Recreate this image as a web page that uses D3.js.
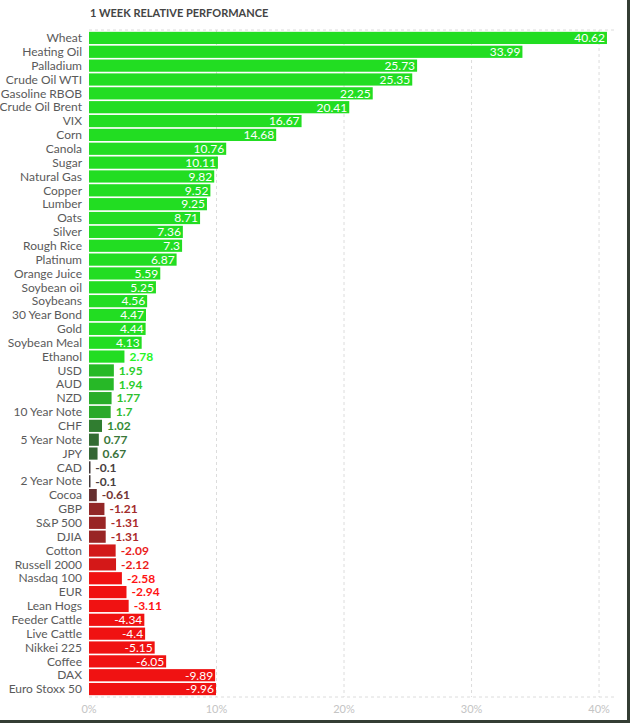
<!DOCTYPE html>
<html>
<head>
<meta charset="utf-8">
<script src="https://cdn.jsdelivr.net/npm/d3@7"></script>
<style>
  body { margin: 0; background: #fff; }
  svg { display: block; font-family: Lato, "Open Sans", sans-serif; }
</style>
</head>
<body>
<div id="chart"></div>
<script>
var names = ["Wheat", "Heating Oil", "Palladium", "Crude Oil WTI", "Gasoline RBOB", "Crude Oil Brent",
  "VIX", "Corn", "Canola", "Sugar", "Natural Gas", "Copper", "Lumber", "Oats", "Silver", "Rough Rice",
  "Platinum", "Orange Juice", "Soybean oil", "Soybeans", "30 Year Bond", "Gold", "Soybean Meal", "Ethanol",
  "USD", "AUD", "NZD", "10 Year Note", "CHF", "5 Year Note", "JPY", "CAD", "2 Year Note", "Cocoa",
  "GBP", "S&P 500", "DJIA", "Cotton", "Russell 2000", "Nasdaq 100", "EUR", "Lean Hogs", "Feeder Cattle",
  "Live Cattle", "Nikkei 225", "Coffee", "DAX", "Euro Stoxx 50"];

var values = [40.62, 33.99, 25.73, 25.35, 22.25, 20.41,
  16.67, 14.68, 10.76, 10.11, 9.82, 9.52, 9.25, 8.71, 7.36, 7.3,
  6.87, 5.59, 5.25, 4.56, 4.47, 4.44, 4.13, 2.78,
  1.95, 1.94, 1.77, 1.7, 1.02, 0.77, 0.67, -0.1, -0.1, -0.61,
  -1.21, -1.31, -1.31, -2.09, -2.12, -2.58, -2.94, -3.11, -4.34,
  -4.4, -5.15, -6.05, -9.89, -9.96];

var xTicks = [0, 10, 20, 30, 40];

var data = names.map(function(n, i) { return {name: n, value: values[i]}; });

var width = 630, height = 723;

var x = d3.scaleLinear().domain([0, 41.25]).range([89, 615]);
var y = d3.scaleBand().domain(names).range([31, 696]).paddingInner(0.12).paddingOuter(0.06);

var color = d3.scaleLinear()
    .domain([-2.5, 0, 2.5])
    .range(["#f01212", "#3a3a3a", "#22dd22"])
    .clamp(true);

var svg = d3.select("#chart").append("svg")
    .attr("width", width)
    .attr("height", height);

svg.append("text")
    .attr("x", 90)
    .attr("y", 17)
    .style("font-size", "11px")
    .style("font-weight", "bold")
    .style("fill", "#444")
    .text("1 WEEK RELATIVE PERFORMANCE");

// grid
var grid = svg.append("g").style("stroke", "#dcdcdc").style("stroke-dasharray", "3,3");
grid.selectAll(".vgrid")
    .data(xTicks.slice(1))
  .enter().append("line")
    .attr("x1", d => x(d)).attr("x2", d => x(d))
    .attr("y1", 30).attr("y2", 697);
grid.selectAll(".hgrid")
    .data([30, 697])
  .enter().append("line")
    .attr("x1", x(0)).attr("x2", x(41.25))
    .attr("y1", d => d).attr("y2", d => d);

// x axis labels
svg.selectAll(".xlab")
    .data(xTicks)
  .enter().append("text")
    .attr("x", d => x(d))
    .attr("y", 713)
    .attr("text-anchor", "middle")
    .style("font-size", "11px")
    .style("fill", "#c4c4c4")
    .text(d => d + "%");

// category labels
svg.selectAll(".cat")
    .data(data)
  .enter().append("text")
    .attr("x", 82)
    .attr("y", d => y(d.name) + y.bandwidth() / 2)
    .attr("dy", "0.35em")
    .attr("text-anchor", "end")
    .style("font-size", "12px")
    .style("fill", "#5a5a5a")
    .text(d => d.name);

// bars
svg.selectAll(".bar")
    .data(data)
  .enter().append("rect")
    .attr("x", x(0))
    .attr("y", d => y(d.name))
    .attr("width", d => Math.max(1.5, x(Math.abs(d.value)) - x(0)))
    .attr("height", y.bandwidth())
    .style("fill", d => color(d.value));

// value labels: inside the bar when it is wide enough, otherwise after it
function inside(d) { return Math.abs(d.value) >= 4; }

svg.selectAll(".val")
    .data(data)
  .enter().append("text")
    .attr("x", function(d) {
      var end = x(Math.abs(d.value));
      return inside(d) ? end - 2 : end + 5;
    })
    .attr("y", d => y(d.name) + y.bandwidth() / 2)
    .attr("dy", "0.36em")
    .attr("text-anchor", d => inside(d) ? "end" : "start")
    .style("font-size", "12px")
    .style("font-weight", d => inside(d) ? "normal" : "bold")
    .style("fill", function(d) {
      if (inside(d)) return "#fff";
      return d3.color(color(d.value)).brighter(0.3);
    })
    .text(d => d.value);

// screenshot frame
svg.append("rect").attr("x", 627).attr("y", 0).attr("width", 3).attr("height", height).style("fill", "#343d34");
svg.append("rect").attr("x", 0).attr("y", 720).attr("width", width).attr("height", 3).style("fill", "#343d34");
</script>
</body>
</html>
